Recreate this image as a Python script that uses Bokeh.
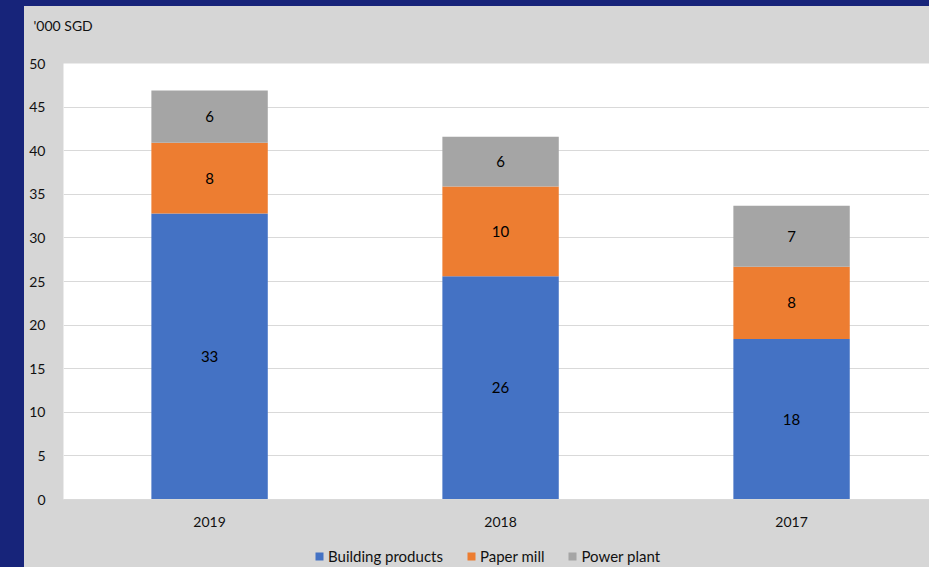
from bokeh.plotting import figure
from bokeh.models import (Range1d, ColumnDataSource, Legend, LegendItem, LabelSet,
                          Div, SingleIntervalTicker)
from bokeh.core.properties import value
from bokeh.layouts import row, column
from bokeh.embed import file_html
from bokeh.resources import INLINE

# ---- data ----
years = ["2019", "2018", "2017"]
building = [32.8, 25.6, 18.4]
paper = [8.1, 10.3, 8.3]
power = [6.0, 5.7, 7.0]
series_names = ["Building products", "Paper mill", "Power plant"]
colors = ["#4472C4", "#ED7D31", "#A5A5A5"]
y_title = "'000 SGD"

FONT = "Lato"
PANEL = "#d6d6d6"
DARK = "#17247a"

x = list(range(len(years)))
src = ColumnDataSource(dict(x=x, building=building, paper=paper, power=power))
stack_cols = ["building", "paper", "power"]

p = figure(width=905, height=523, output_backend="svg", toolbar_location=None,
           x_range=Range1d(-0.502, 2.474), y_range=Range1d(0, 50),
           min_border_left=39, min_border_right=0, min_border_top=55,
           min_border_bottom=29)
p.background_fill_color = "white"
p.border_fill_color = PANEL
p.outline_line_color = None

renderers = p.vbar_stack(stack_cols, x="x", width=0.4,
                         color=colors, line_color=None, source=src)

# segment labels
lx, ly, lt = [], [], []
for i in x:
    base = 0.0
    for vals in (building, paper, power):
        v = vals[i]
        lx.append(i)
        ly.append(base + v / 2)
        lt.append(str(int(round(v))))
        base += v
lsrc = ColumnDataSource(dict(x=lx, y=ly, t=lt))
labels = LabelSet(x="x", y="y", text="t", source=lsrc, text_align="center",
                  text_baseline="middle", text_font=value(FONT),
                  text_font_size=value("15px"), text_color=value("#000000"))
p.add_layout(labels)

# axes
p.xaxis.ticker = x
p.xaxis.major_label_overrides = {i: y for i, y in enumerate(years)}
p.xaxis.major_tick_line_color = None
p.xaxis.minor_tick_line_color = None
p.xaxis.axis_line_color = "#d9d9d9"
p.xaxis.major_label_standoff = 11
p.xaxis.major_label_text_font = FONT
p.xaxis.major_label_text_font_size = "14px"
p.xaxis.major_label_text_color = "#111111"

p.yaxis.ticker = SingleIntervalTicker(interval=5)
p.yaxis.major_tick_line_color = None
p.yaxis.minor_tick_line_color = None
p.yaxis.axis_line_color = None
p.yaxis.major_label_standoff = 12
p.yaxis.major_label_text_font = FONT
p.yaxis.major_label_text_font_size = "14px"
p.yaxis.major_label_text_color = "#111111"

p.xgrid.grid_line_color = None
p.ygrid.grid_line_color = "#d9d9d9"

# title as y-axis unit (second blank line lifts it away from the frame)
p.title.text = y_title + "\n "
p.title.align = "left"
p.title.vertical_align = "bottom"
p.title.offset = -30
p.title.standoff = 18
p.title.text_line_height = 1.2
p.title.text_font = FONT
p.title.text_font_size = "14px"
p.title.text_font_style = "normal"
p.title.text_color = "#111111"

# legend strip (separate figure so the legend isn't clipped);
# the same stacked bars are drawn there but fall outside its ranges
pl = figure(width=905, height=38, output_backend="svg", toolbar_location=None,
            x_axis_location=None, y_axis_location=None,
            min_border_left=39, min_border_right=0, min_border_top=0,
            min_border_bottom=0, x_range=Range1d(100, 101),
            y_range=Range1d(100, 101))
pl.background_fill_alpha = 0
pl.border_fill_color = PANEL
pl.outline_line_color = None
pl.grid.grid_line_color = None
leg_renderers = pl.vbar_stack(stack_cols, x="x", width=0.4,
                              color=colors, line_color=None, source=src)
legend = Legend(items=[LegendItem(label=n, renderers=[r]) for n, r in zip(series_names, leg_renderers)],
                orientation="horizontal", location=(249, 0),
                background_fill_alpha=0, border_line_alpha=0,
                label_text_font=FONT, label_text_font_size="15px",
                label_text_color="#111111", glyph_width=10, glyph_height=10,
                spacing=23, label_standoff=4, margin=0, padding=2)
pl.add_layout(legend, "center")

top_strip = Div(width=929, height=6, margin=0, styles={"background-color": DARK})
left_strip = Div(width=24, height=561, margin=0, styles={"background-color": DARK})
panel = column(p, pl, spacing=0, styles={"background-color": PANEL})
layout = column(top_strip, row(left_strip, panel, spacing=0), spacing=0)

open("out.html", "w").write(file_html(layout, INLINE))
